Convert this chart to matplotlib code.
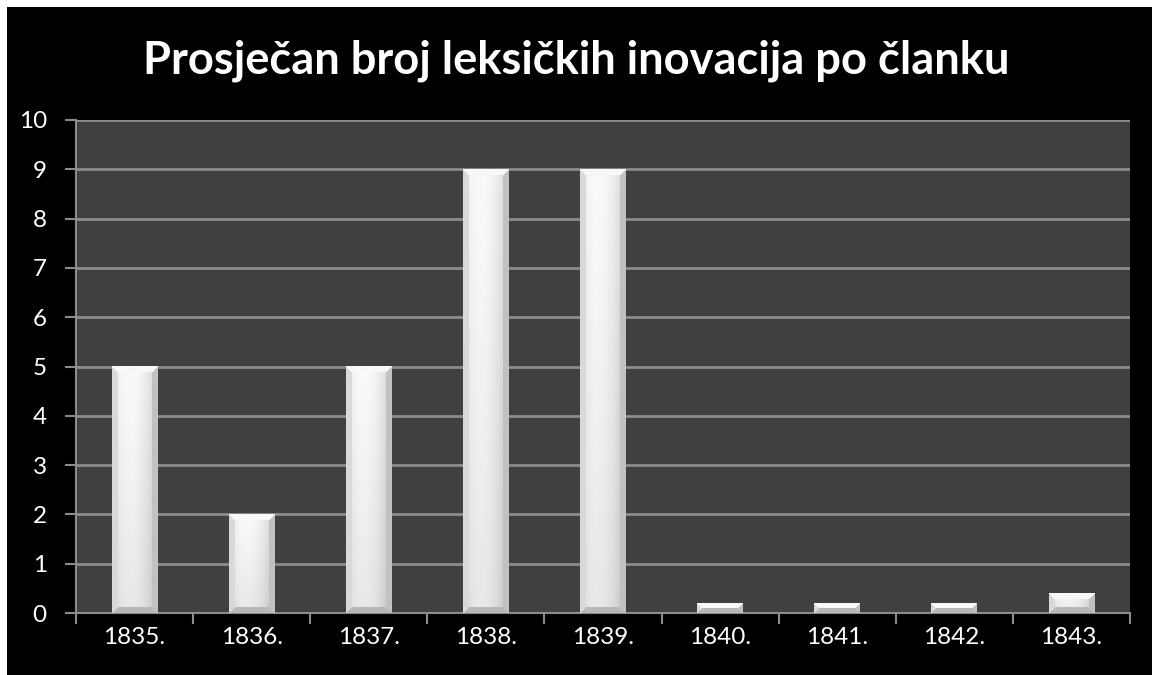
import numpy as np
import matplotlib
matplotlib.use("Agg")
import matplotlib.pyplot as plt
from matplotlib.patches import Rectangle

years = ["1835.", "1836.", "1837.", "1838.", "1839.", "1840.", "1841.", "1842.", "1843."]
values = [5, 2, 5, 9, 9, 0.2, 0.2, 0.2, 0.4]
yticks = list(range(0, 11))
title = "Prosječan broj leksičkih inovacija po članku"

plt.rcParams["font.family"] = ["Lato", "DejaVu Sans"]

W, H, DPI = 1152, 675, 100
fig = plt.figure(figsize=(W / DPI, H / DPI), dpi=DPI, facecolor="white")
# black panel with a thin white margin on the top and left
fig.patches.append(Rectangle((7 / W, 0), 1 - 7 / W, 1 - 7 / H, transform=fig.transFigure,
                             facecolor="black", edgecolor="none", zorder=-10))

ax = fig.add_axes([76 / W, (H - 613) / H, (1130 - 76) / W, (613 - 120) / H])
ax.set_zorder(1)
ax.set_facecolor("#404040")

x = np.arange(len(years))
bars = ax.bar(x, values, width=0.39, color="#f0f0f0", zorder=2)

ax.set_xlim(-0.5, len(years) - 0.5)
ax.set_ylim(0, 10)
ax.set_yticks(yticks)
ax.set_xticks(np.arange(len(years) + 1) - 0.5, minor=False)
ax.set_xticklabels([])
ax.set_xticks(x, minor=True)
ax.set_xticklabels(years, minor=True)
ax.tick_params(axis="x", which="minor", length=0, pad=10, labelsize=17.5, labelcolor="white")
ax.tick_params(axis="x", which="major", length=8, width=1.5, color="#8c8c8c", direction="out")
ax.tick_params(axis="y", length=8, width=1.5, color="#8c8c8c", direction="out", pad=13,
               labelsize=17.5, labelcolor="white")

ax.yaxis.grid(True, color="#8c8c8c", linewidth=2, zorder=1)
ax.set_axisbelow(True)
for side in ("top", "right"):
    ax.spines[side].set_visible(False)
for side in ("left", "bottom"):
    ax.spines[side].set_color("#8c8c8c")
    ax.spines[side].set_linewidth(1.5)

# bevelled gradient fill for each bar
fig.canvas.draw()
bevel = 6.0
for rect in bars.patches:
    x0, w, h = rect.get_x(), rect.get_width(), rect.get_height()
    p0 = ax.transData.transform((x0, 0))
    p1 = ax.transData.transform((x0 + w, h))
    pw = max(int(round(p1[0] - p0[0])), 2)
    ph = max(int(round(p1[1] - p0[1])), 2)
    xx, yy = np.meshgrid(np.arange(pw) + 0.5, np.arange(ph) + 0.5)  # yy from top
    # interior: horizontal sheen, slightly darker toward the bottom
    t = xx / pw
    base = 0.98 - 0.12 * (t - 0.4) ** 2 * 4
    base = base - 0.07 * (yy / max(ph, 1))
    img = base.copy()
    d_left, d_right = xx, pw - xx
    d_top, d_bot = yy, ph - yy
    b = min(bevel, ph / 2.2, pw / 2.2)
    dmin = np.minimum(np.minimum(d_left, d_right), np.minimum(d_top, d_bot))
    edge = dmin < b
    img[edge & (d_top == dmin)] = 0.97
    img[edge & (d_left == dmin) & (d_top != dmin)] = 0.85
    img[edge & (d_right == dmin) & (d_top != dmin)] = 0.76
    img[edge & (d_bot == dmin) & (d_left != dmin) & (d_right != dmin)] = 0.72
    img = np.clip(img, 0, 1)
    ax.imshow(img, cmap="gray", vmin=0, vmax=1, extent=(x0, x0 + w, 0, h),
              aspect="auto", interpolation="bilinear", zorder=3)
ax.set_xlim(-0.5, len(years) - 0.5)
ax.set_ylim(0, 10)

fig.text(0.5, 1 - 61 / H, title, ha="center", va="center", color="white",
         fontsize=32.6, fontweight="bold")

fig.savefig("out.png", dpi=DPI, facecolor=fig.get_facecolor())
